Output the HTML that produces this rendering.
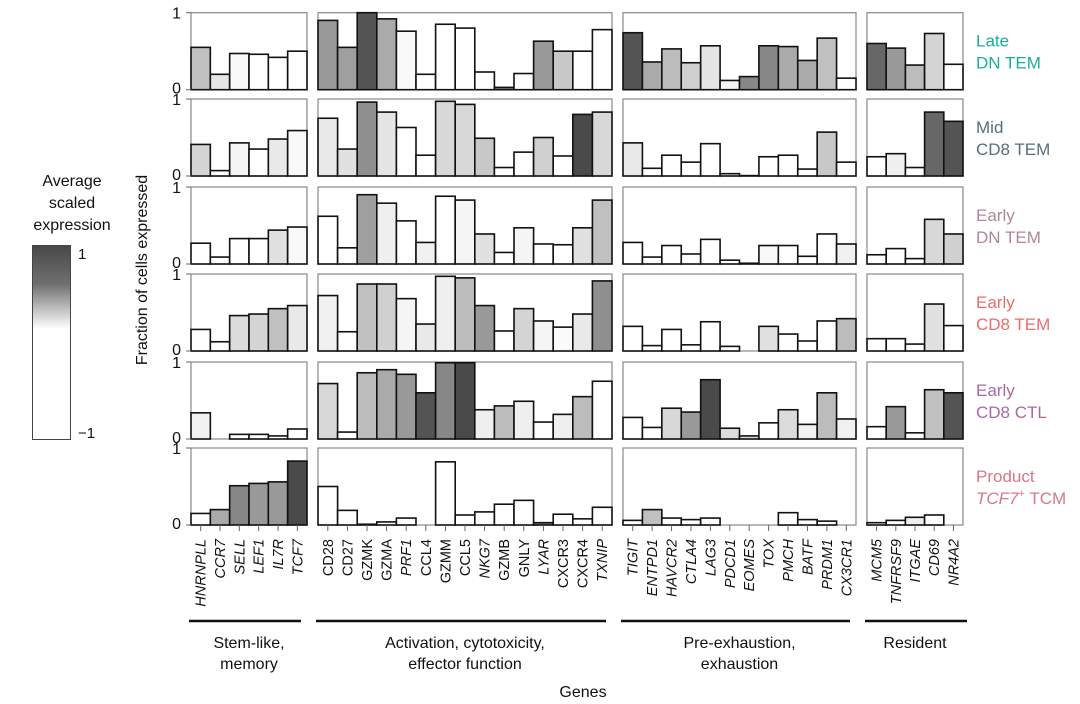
<!DOCTYPE html>
<html><head><meta charset="utf-8"><style>
html,body{margin:0;padding:0;background:#fff}
svg{display:block;font-family:"Liberation Sans",sans-serif}
</style></head><body>
<svg id="chart" width="1080" height="704" viewBox="0 0 1080 704" xmlns="http://www.w3.org/2000/svg">
<defs><linearGradient id="cb" x1="0" y1="0" x2="0" y2="1">
<stop offset="0" stop-color="#484848"/><stop offset="0.2" stop-color="#707070"/><stop offset="0.43" stop-color="#ffffff"/><stop offset="1" stop-color="#ffffff"/></linearGradient></defs>
<g>
<text x="72" y="186" font-size="16" text-anchor="middle" fill="#111">Average</text>
<text x="72" y="208" font-size="16" text-anchor="middle" fill="#111">scaled</text>
<text x="72" y="230" font-size="16" text-anchor="middle" fill="#111">expression</text>
<rect x="32.5" y="245.5" width="38" height="194" fill="url(#cb)" stroke="#444" stroke-width="1"/>
<text x="78" y="259" font-size="15" fill="#111">1</text>
<text x="78" y="438" font-size="15" fill="#111">−1</text>
</g>
<text transform="translate(147,270) rotate(-90)" font-size="16" text-anchor="middle" fill="#111">Fraction of cells expressed</text>
<text x="583" y="697" font-size="16" text-anchor="middle" fill="#111">Genes</text>
<g id="plots"></g>
</svg>
<script>
const groupGenes = [
 ["HNRNPLL","CCR7","SELL","LEF1","IL7R","TCF7"],
 ["CD28","CD27","GZMK","GZMA","PRF1","CCL4","GZMM","CCL5","NKG7","GZMB","GNLY","LYAR","CXCR3","CXCR4","TXNIP"],
 ["TIGIT","ENTPD1","HAVCR2","CTLA4","LAG3","PDCD1","EOMES","TOX","PMCH","BATF","PRDM1","CX3CR1"],
 ["MCM5","TNFRSF9","ITGAE","CD69","NR4A2"]
];
const italicGenes = ["HNRNPLL","CCR7","SELL","LEF1","IL7R","TCF7","PRF1","NKG7","LYAR","TXNIP","TIGIT","ENTPD1","HAVCR2","CTLA4","LAG3","PDCD1","EOMES","TOX","PMCH","BATF","PRDM1","CX3CR1","MCM5","TNFRSF9","ITGAE","CD69","NR4A2"];
const groupNames = [["Stem-like,","memory"],["Activation, cytotoxicity,","effector function"],["Pre-exhaustion,","exhaustion"],["Resident"]];
const clusterNames = [["Late","DN TEM"],["Mid","CD8 TEM"],["Early","DN TEM"],["Early","CD8 TEM"],["Early","CD8 CTL"],["Product","TCF7+ TCM"]];
const clusterColors = ["#1aae9a","#5b6d7c","#b08890","#ee6b6b","#a96aa2","#d57888"];
const frac1 = [[0.55,0.2,0.47,0.46,0.42,0.5],[0.9,0.55,1.0,0.92,0.76,0.2,0.85,0.8,0.23,0.03,0.21,0.63,0.5,0.5,0.78],[0.74,0.36,0.53,0.35,0.57,0.12,0.17,0.57,0.56,0.38,0.67,0.15],[0.6,0.54,0.32,0.73,0.33]];
const frac2 = [[0.41,0.07,0.43,0.35,0.48,0.59],[0.75,0.35,0.96,0.83,0.63,0.27,0.97,0.93,0.49,0.11,0.31,0.5,0.26,0.8,0.83],[0.43,0.1,0.27,0.18,0.42,0.03,0.005,0.25,0.27,0.09,0.57,0.18],[0.25,0.29,0.11,0.83,0.71]];
const frac3 = [[0.27,0.09,0.33,0.33,0.44,0.48],[0.62,0.21,0.9,0.79,0.56,0.28,0.88,0.83,0.39,0.15,0.47,0.26,0.25,0.47,0.83],[0.28,0.09,0.24,0.13,0.32,0.05,0.01,0.24,0.24,0.1,0.39,0.26],[0.12,0.2,0.07,0.58,0.39]];
const frac4 = [[0.28,0.12,0.46,0.48,0.55,0.59],[0.72,0.25,0.87,0.87,0.68,0.35,0.97,0.95,0.59,0.26,0.55,0.39,0.31,0.48,0.91],[0.32,0.07,0.28,0.08,0.38,0.06,0,0.32,0.22,0.13,0.39,0.42],[0.16,0.16,0.09,0.61,0.33]];
const frac5 = [[0.34,0,0.06,0.06,0.04,0.13],[0.72,0.09,0.86,0.9,0.84,0.6,0.99,0.99,0.38,0.43,0.49,0.22,0.32,0.55,0.75],[0.28,0.15,0.4,0.35,0.77,0.14,0.04,0.21,0.38,0.19,0.6,0.26],[0.16,0.42,0.08,0.64,0.6]];
const frac6 = [[0.15,0.2,0.51,0.54,0.56,0.83],[0.5,0.19,0.01,0.04,0.09,0,0.82,0.13,0.17,0.27,0.32,0.03,0.14,0.08,0.23],[0.06,0.2,0.09,0.07,0.09,0,0,0,0.16,0.07,0.05,0],[0.03,0.06,0.1,0.13,0]];
const expr1 = [[0.41,0.23,0.13,-0.5,-0.5,-0.5],[0.6,0.57,0.94,0.52,0.13,-0.5,-0.5,-0.5,-0.5,0.69,-0.5,0.6,0.37,-0.5,-0.5],[0.94,0.52,0.43,0.33,0.23,0.15,0.69,0.69,0.52,0.52,0.41,-0.5],[0.85,0.6,0.43,0.31,-0.5]];
const expr2 = [[0.31,-0.5,0.15,-0.5,0.21,0.13],[0.21,0.25,0.65,0.23,-0.5,-0.5,0.29,0.29,0.37,-0.5,-0.5,0.33,-0.5,0.99,0.29],[0.21,-0.5,-0.5,-0.5,-0.5,-0.5,-0.5,-0.5,-0.5,-0.5,0.37,-0.5],[-0.5,0.18,-0.5,0.85,0.94]];
const expr3 = [[-0.5,-0.5,-0.5,-0.5,0.25,0.13],[-0.5,-0.5,0.57,0.18,-0.5,0.17,-0.5,0.15,0.25,-0.5,0.15,-0.5,-0.5,0.25,0.41],[-0.5,-0.5,-0.5,-0.5,-0.5,-0.5,0.9,0.13,-0.5,-0.5,-0.5,0.17],[-0.5,-0.5,-0.5,0.29,0.33]];
const expr4 = [[-0.5,-0.5,0.27,0.31,0.41,0.21],[0.17,-0.5,0.41,0.33,0.15,0.21,0.18,0.43,0.6,-0.5,0.31,0.15,0.12,0.21,0.65],[-0.5,-0.5,-0.5,-0.5,-0.5,-0.5,-0.5,0.25,-0.5,-0.5,-0.5,0.43],[-0.5,-0.5,-0.5,0.25,-0.5]];
const expr5 = [[0.17,-0.5,-0.5,-0.5,-0.5,-0.5],[0.29,-0.5,0.43,0.52,0.6,0.94,0.69,0.99,0.18,0.43,0.18,-0.5,0.18,0.43,-0.5],[-0.5,-0.5,0.29,0.6,0.99,0.27,0.27,-0.5,0.27,0.17,0.43,0.17],[-0.5,0.6,-0.5,0.41,0.94]];
const expr6 = [[-0.5,0.52,0.69,0.6,0.6,0.99],[-0.5,-0.5,-0.5,-0.5,-0.5,-0.5,-0.5,-0.5,-0.5,-0.5,-0.5,0.69,-0.5,-0.5,-0.5],[-0.5,0.41,-0.5,-0.5,-0.5,-0.5,-0.5,-0.5,-0.5,-0.5,-0.5,-0.5],[-0.5,-0.5,0.18,-0.5,-0.5]];
const fracs = [frac1,frac2,frac3,frac4,frac5,frac6];
const exprs = [expr1,expr2,expr3,expr4,expr5,expr6];

const NS = "http://www.w3.org/2000/svg";
const root = document.getElementById("plots");
const colX = [[191,307],[318,612],[623,856],[867,963]];
const rowTop = [12.7,99,187,274,362,448];
const PH = 77;
function mk(tag, attrs, parent){ const e=document.createElementNS(NS,tag); for(const k in attrs) e.setAttribute(k,attrs[k]); (parent||root).appendChild(e); return e; }
function yScale(r, v){ return rowTop[r] + PH - v*PH; }
function xScale(g, i){ const n=groupGenes[g].length; return colX[g][0] + (colX[g][1]-colX[g][0])*i/n; }
function shade(e){ const t=Math.max(0,Math.min(1,(e-0.1)/0.9)); const L=Math.round(255-183*t); return "rgb("+L+","+L+","+L+")"; }

for(let r=0;r<6;r++){
  for(let g=0;g<4;g++){
    const panel = mk("rect",{x:colX[g][0],y:rowTop[r],width:colX[g][1]-colX[g][0],height:PH,fill:"#fff",stroke:"#888","stroke-width":1.2});
    
    
    const bw=(colX[g][1]-colX[g][0])/groupGenes[g].length;
    groupGenes[g].forEach((gene,i)=>{
      const v=fracs[r][g][i];
      const y=yScale(r,v);
      const b=mk("rect",{x:xScale(g,i),y:y,width:bw,height:Math.max(0,rowTop[r]+PH-y),fill:shade(exprs[r][g][i]),stroke:"#111","stroke-width":1.6});
      
      
    });
  }
  const x0=colX[0][0];
  mk("line",{x1:x0-5,x2:x0,y1:rowTop[r],y2:rowTop[r],stroke:"#666"});
  mk("line",{x1:x0-5,x2:x0,y1:rowTop[r]+PH,y2:rowTop[r]+PH,stroke:"#666"});
  const t1=mk("text",{x:x0-10,y:rowTop[r]+6,"font-size":16,"text-anchor":"end",fill:"#111"}); t1.textContent="1";
  
  
  const t0=mk("text",{x:x0-10,y:rowTop[r]+PH+4,"font-size":16,"text-anchor":"end",fill:"#111"}); t0.textContent="0";
  
  
  const lab=mk("text",{x:976,y:rowTop[r]+34,"font-size":17,fill:clusterColors[r]});
  lab.textContent=clusterNames[r][0];
  
  
  const lab2=mk("text",{x:976,y:rowTop[r]+56,"font-size":17,fill:clusterColors[r]});
  
  
  if(r===5){
    const ts=mk("tspan",{"font-style":"italic"},lab2); ts.textContent="TCF7";
    const sp=mk("tspan",{dy:-7,"font-size":11},lab2); sp.textContent="+";
    const rest=mk("tspan",{dy:7},lab2); rest.textContent=" TCM";
  } else lab2.textContent=clusterNames[r][1];
}
const bottom=rowTop[5]+PH;
for(let g=0;g<4;g++){
  const bw=(colX[g][1]-colX[g][0])/groupGenes[g].length;
  groupGenes[g].forEach((gene,i)=>{
    const cx=xScale(g,i)+bw/2;
    mk("line",{x1:cx,x2:cx,y1:bottom,y2:bottom+6,stroke:"#666"});
    const t=mk("text",{transform:"translate("+(cx+5)+","+(bottom+14)+") rotate(-90)","font-size":14.5,"text-anchor":"end",fill:"#111","font-style":italicGenes.includes(gene)?"italic":"normal"});
    t.textContent=gene;
    
    
  });
  const br=mk("line",{x1:colX[g][0]-2,x2:colX[g][1]-2+(g===3?6:-4),y1:621,y2:621,stroke:"#111","stroke-width":2.5});
  
  
  const mid=(colX[g][0]+colX[g][1])/2;
  groupNames[g].forEach((s,k)=>{
    const t=mk("text",{x:mid,y:648+k*21,"font-size":16,"text-anchor":"middle",fill:"#111"});
    t.textContent=s;
    
    
  });
}
</script>
</body></html>
